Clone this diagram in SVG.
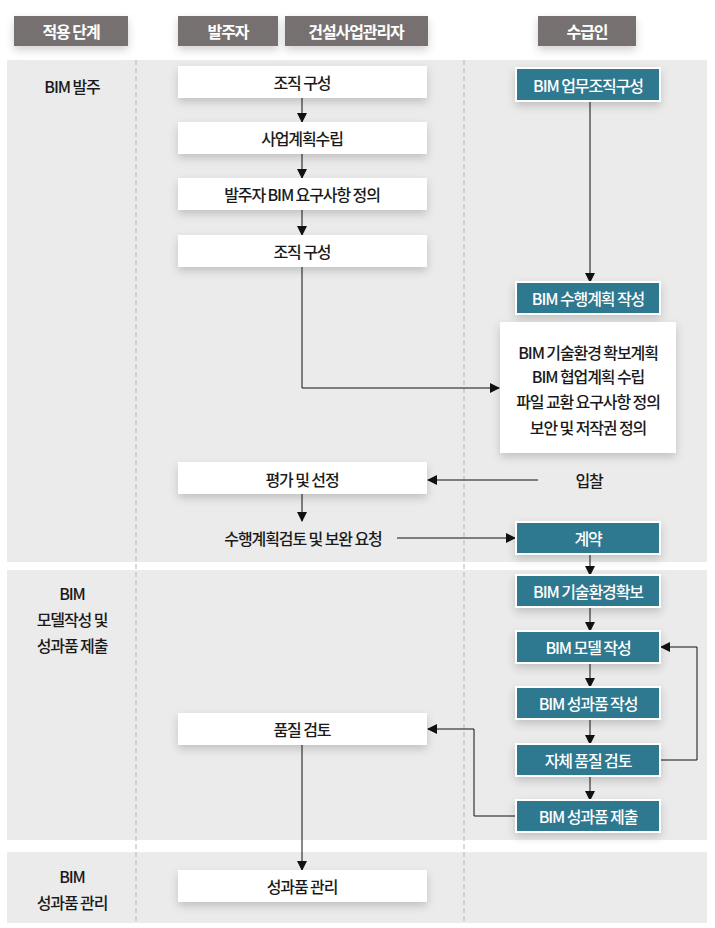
<svg xmlns="http://www.w3.org/2000/svg" width="715" height="928" viewBox="0 0 715 928">
<defs>
<filter id="sh" x="-20%" y="-40%" width="140%" height="200%">
<feDropShadow dx="0" dy="4" stdDeviation="4" flood-color="#000" flood-opacity="0.18"/>
</filter>
<marker id="ah" viewBox="0 0 10 10" refX="9" refY="5" markerWidth="10" markerHeight="10" markerUnits="userSpaceOnUse" orient="auto">
<path d="M0,0 L10,5 L0,10 Z" fill="#111"/>
</marker>
<style>
text{font-family:"Noto Sans CJK KR","Noto Sans",sans-serif;font-size:16px;font-weight:500;letter-spacing:-1.1px;text-anchor:middle;dominant-baseline:central;fill:#1a1a1a}
.hd{fill:#767170;filter:url(#sh)}
.hdt{fill:#fff;font-weight:bold}
.band{fill:#ebebeb}
.dash{stroke:#b5b5b5;stroke-width:1;stroke-dasharray:5,3}
.wb{fill:#fff;filter:url(#sh)}
.tb{fill:#2f7890;stroke:#fff;stroke-width:2;filter:url(#sh)}
.tt{fill:#fff}
.con{fill:none;stroke:#111;stroke-width:1;marker-end:url(#ah)}
</style>
</defs>
<rect width="715" height="928" fill="#fff"/>
<g id="bands">
<rect class="band" x="7" y="60" width="700" height="502"/>
<rect class="band" x="7" y="570" width="700" height="270"/>
<rect class="band" x="7" y="852" width="700" height="71"/>
<line class="dash" x1="136" y1="60" x2="136" y2="923"/>
<line class="dash" x1="464" y1="60" x2="464" y2="923"/>
</g>
<g id="headers">
<rect class="hd" x="14" y="16" width="114" height="30"/><text class="hdt" x="71" y="31">적용 단계</text>
<rect class="hd" x="178" y="16" width="100" height="30"/><text class="hdt" x="228" y="31">발주자</text>
<rect class="hd" x="285" y="16" width="143" height="30"/><text class="hdt" x="356" y="31">건설사업관리자</text>
<rect class="hd" x="538" y="16" width="98" height="30"/><text class="hdt" x="587" y="31">수급인</text>
</g>
<g id="phases">
<text x="72" y="86">BIM 발주</text>
<text x="72" y="593">BIM</text>
<text x="72" y="619">모델작성 및</text>
<text x="72" y="645">성과품 제출</text>
<text x="72" y="876">BIM</text>
<text x="72" y="902">성과품 관리</text>
</g>
<g id="connectors">
<line class="con" x1="302" y1="98" x2="302" y2="122"/>
<line class="con" x1="302" y1="154" x2="302" y2="178"/>
<line class="con" x1="302" y1="210" x2="302" y2="235"/>
<polyline class="con" points="302,267 302,388 499,388"/>
<line class="con" x1="590" y1="101" x2="590" y2="282"/>
<line class="con" x1="538" y1="480" x2="428" y2="480"/>
<line class="con" x1="302" y1="494" x2="302" y2="521"/>
<line class="con" x1="397" y1="538" x2="515" y2="538"/>
<line class="con" x1="590" y1="554" x2="590" y2="575"/>
<line class="con" x1="590" y1="607" x2="590" y2="631"/>
<line class="con" x1="590" y1="663" x2="590" y2="687"/>
<line class="con" x1="590" y1="719" x2="590" y2="744"/>
<line class="con" x1="590" y1="776" x2="590" y2="800"/>
<polyline class="con" points="661,760 697,760 697,647 661,647"/>
<polyline class="con" points="515,816 474,816 474,729 428,729"/>
<line class="con" x1="302" y1="745" x2="302" y2="870"/>
</g>
<g id="n1"><rect class="wb" x="178" y="66" width="249" height="32"/><text x="302" y="82">조직 구성</text></g>
<g id="n2"><rect class="wb" x="178" y="122" width="249" height="32"/><text x="302" y="138">사업계획수립</text></g>
<g id="n3"><rect class="wb" x="178" y="178" width="249" height="32"/><text x="302" y="194">발주자 BIM 요구사항 정의</text></g>
<g id="n4"><rect class="wb" x="178" y="235" width="249" height="32"/><text x="302" y="251">조직 구성</text></g>
<g id="n5"><rect class="tb" x="516" y="68" width="144" height="33"/><text class="tt" x="588" y="85">BIM 업무조직구성</text></g>
<g id="n6"><rect class="tb" x="516" y="282" width="144" height="32"/><text class="tt" x="588" y="298">BIM 수행계획 작성</text></g>
<g id="n7"><rect class="wb" x="500" y="322" width="176" height="131"/>
<text x="588" y="352">BIM 기술환경 확보계획</text>
<text x="588" y="376">BIM 협업계획 수립</text>
<text x="588" y="401">파일 교환 요구사항 정의</text>
<text x="588" y="427">보안 및 저작권 정의</text></g>
<g id="n8"><rect class="wb" x="178" y="462" width="249" height="32"/><text x="302" y="479">평가 및 선정</text></g>
<g id="n9"><text x="589" y="480">입찰</text></g>
<g id="n10"><text x="303" y="538">수행계획검토 및 보완 요청</text></g>
<g id="n11"><rect class="tb" x="516" y="522" width="144" height="32"/><text class="tt" x="588" y="538">계약</text></g>
<g id="n12"><rect class="tb" x="516" y="575" width="144" height="32"/><text class="tt" x="588" y="591">BIM 기술환경확보</text></g>
<g id="n13"><rect class="tb" x="516" y="631" width="144" height="32"/><text class="tt" x="588" y="647">BIM 모델 작성</text></g>
<g id="n14"><rect class="tb" x="516" y="687" width="144" height="32"/><text class="tt" x="588" y="703">BIM 성과품 작성</text></g>
<g id="n15"><rect class="tb" x="516" y="744" width="144" height="32"/><text class="tt" x="588" y="760">자체 품질 검토</text></g>
<g id="n16"><rect class="tb" x="516" y="800" width="144" height="32"/><text class="tt" x="588" y="816">BIM 성과품 제출</text></g>
<g id="n17"><rect class="wb" x="178" y="713" width="249" height="32"/><text x="302" y="729">품질 검토</text></g>
<g id="n18"><rect class="wb" x="178" y="870" width="249" height="32"/><text x="302" y="886">성과품 관리</text></g>
</svg>
